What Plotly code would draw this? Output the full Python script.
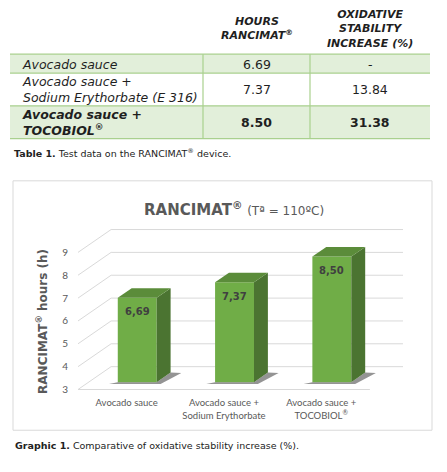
import plotly.graph_objects as go

# page size (px); the body margin is removed after plotting so the figure fills the window
OFF = 0
W, H = 447, 472

# table data
col_header = ["", "<b><i>HOURS</i></b><br><b><i>RANCIMAT<sup>®</sup></i></b>",
              "<b><i>OXIDATIVE</i></b><br><b><i>STABILITY</i></b><br><b><i>INCREASE (%)</i></b>"]
row_names = ["<i>Avocado sauce</i>",
             "<i>Avocado sauce +</i><br><i>Sodium Erythorbate (E 316)</i>",
             "<b><i>Avocado sauce +</i></b><br><b><i>TOCOBIOL<sup>®</sup></i></b>"]
hours_txt = ["6.69", "7.37", "<b>8.50</b>"]
increase_txt = ["-", "13.84", "<b>31.38</b>"]

# chart data
categories = ["Avocado sauce", "Avocado sauce +<br>Sodium Erythorbate", "Avocado sauce +<br>TOCOBIOL<sup>®</sup>"]
hours = [6.69, 7.37, 8.50]
bar_labels = ["6,69", "7,37", "8,50"]
y_ticks = [3, 4, 5, 6, 7, 8, 9]

GRID = "#d9d9d9"
TXT = "#595959"
INK = "#1f1f1f"
FRONT, TOP, SIDE = "#70ad47", "#5b8c3a", "#4b7431"
TFILL, TLINE = "#e2efda", "#a9d08e"
FONT = "DejaVu Sans"


def px(x):
    return (x - OFF) / W


def py(y):
    return 1 - (y - OFF) / H


fig = go.Figure()
shapes = []
notes = []

# ---- table (page px) ----
col_edges = [10, 203, 310, 430]
row_edges = [54.5, 73.5, 106.5, 139.5]
row_fill = [TFILL, "white", TFILL]
for r in range(3):
    shapes.append(dict(type="rect", xref="paper", yref="paper", x0=px(col_edges[0]), x1=px(col_edges[-1]),
                       y0=py(row_edges[r + 1]), y1=py(row_edges[r]), fillcolor=row_fill[r],
                       line=dict(width=0), layer="below"))
for yy in row_edges:
    shapes.append(dict(type="line", xref="paper", yref="paper", x0=px(col_edges[0]), x1=px(col_edges[-1]),
                       y0=py(yy), y1=py(yy), line=dict(color=TLINE, width=1.2)))
for xx in col_edges[1:-1]:
    shapes.append(dict(type="line", xref="paper", yref="paper", x0=px(xx), x1=px(xx),
                       y0=py(row_edges[0]), y1=py(row_edges[-1]), line=dict(color=TLINE, width=1.2)))

col_mid = [(col_edges[c] + col_edges[c + 1]) / 2 for c in range(3)]
for c in (1, 2):
    notes.append(dict(x=px(col_mid[c]), y=py(29), text=col_header[c], xanchor="center", yanchor="middle",
                      font=dict(family=FONT, size=11, color=INK)))
for r in range(3):
    ym = py((row_edges[r] + row_edges[r + 1]) / 2 + 0.5)
    notes.append(dict(x=px(20), y=ym, text=row_names[r], xanchor="left", yanchor="middle", align="left",
                      font=dict(family=FONT, size=12.5, color=INK)))
    notes.append(dict(x=px(col_mid[1]), y=ym, text=hours_txt[r], xanchor="center", yanchor="middle",
                      font=dict(family=FONT, size=12.5, color=INK)))
    notes.append(dict(x=px(col_mid[2]), y=ym, text=increase_txt[r], xanchor="center", yanchor="middle",
                      font=dict(family=FONT, size=12.5, color=INK)))

# ---- 3d-looking column chart (axis units) ----
DX, DY = 0.34, 1.0      # depth of the floor
F0 = 0.32               # depth of bar front face
BW = 0.40               # bar width
SD = 0.42               # bar depth (fraction of floor depth)
sdx, sdy = SD * DX, SD * DY
BASE = y_ticks[0] + F0 * DY

# side wall diagonals, back wall gridlines, floor edge
for v in y_ticks:
    shapes.append(dict(type="line", xref="x", yref="y", x0=-0.5, x1=-0.5 + DX, y0=v, y1=v + DY,
                       line=dict(color=GRID, width=1), layer="below"))
    shapes.append(dict(type="line", xref="x", yref="y", x0=-0.5 + DX, x1=2.5 + DX, y0=v + DY, y1=v + DY,
                       line=dict(color=GRID, width=1), layer="below"))
shapes.append(dict(type="line", xref="x", yref="y", x0=-0.5, x1=2.5, y0=y_ticks[0], y1=y_ticks[0],
                   line=dict(color=GRID, width=1), layer="below"))

xc = [i + F0 * DX for i in range(len(hours))]
tops = [v + F0 * DY for v in hours]
for i, v in enumerate(hours):
    xl, xr = xc[i] - BW / 2, xc[i] + BW / 2
    top = tops[i]
    # floor shadow
    fig.add_trace(go.Scatter(
        x=[xl - 0.09, xr + 0.04, xr + sdx + 0.11, xr + sdx, xr, xl, xl - 0.09],
        y=[BASE - 0.08, BASE - 0.08, BASE + sdy - 0.02, BASE + sdy, BASE, BASE, BASE - 0.08],
        fill="toself", fillcolor="rgba(60,60,60,0.55)", line=dict(width=0),
        mode="lines", hoverinfo="skip"))
    # side face
    fig.add_trace(go.Scatter(
        x=[xr, xr, xr + sdx, xr + sdx, xr],
        y=[BASE, top, top + sdy, BASE + sdy, BASE],
        fill="toself", fillcolor=SIDE, line=dict(width=0), mode="lines", hoverinfo="skip"))
    # top face
    fig.add_trace(go.Scatter(
        x=[xl, xr, xr + sdx, xl + sdx, xl],
        y=[top, top, top + sdy, top + sdy, top],
        fill="toself", fillcolor=TOP, line=dict(width=0), mode="lines", hoverinfo="skip"))
    notes.append(dict(xref="x", yref="y", x=xc[i], y=top, yshift=-14, text="<b>%s</b>" % bar_labels[i],
                      font=dict(family=FONT, size=10, color="#404040")))

# front faces
fig.add_trace(go.Bar(x=xc, y=[t - BASE for t in tops], base=BASE, width=BW,
                     marker=dict(color=FRONT, line=dict(width=0)), hoverinfo="skip"))

# axes placement (page px)
x_lo, x_hi = -0.55, 2.5 + DX + 0.05
y_lo, y_hi = 2.9, 10.1
ux, uy = 97.3, 23.0
left = 78 - (-0.5 - x_lo) * ux
right = 78 + (x_hi + 0.5) * ux
bottom = 392 + (y_ticks[0] - y_lo) * uy
top_px = 392 - (y_hi - y_ticks[0]) * uy

# chart frame
shapes.append(dict(type="rect", xref="paper", yref="paper", x0=px(13), x1=px(432),
                   y0=py(433), y1=py(182), line=dict(color=GRID, width=1), layer="below"))

notes.append(dict(x=px(234), y=py(210), xanchor="center", yanchor="middle",
                  text="<b>RANCIMAT<sup>®</sup></b> <span style='font-size:12px'>(Tª = 110ºC)</span>",
                  font=dict(family=FONT, size=15, color=TXT)))
notes.append(dict(x=px(42), y=py(324), xanchor="center", yanchor="middle", textangle=-90,
                  text="<b>RANCIMAT<sup>®</sup> hours (h)</b>",
                  font=dict(family=FONT, size=12, color=TXT)))
notes.append(dict(x=px(12), y=py(154), xanchor="left", yanchor="middle",
                  text="<b>Table 1.</b> Test data on the RANCIMAT<sup>®</sup> device.",
                  font=dict(family=FONT, size=9.5, color="#222222")))
notes.append(dict(x=px(13), y=py(448), xanchor="left", yanchor="middle",
                  text="<b>Graphic 1.</b> Comparative of oxidative stability increase (%).",
                  font=dict(family=FONT, size=9.5, color="#222222")))

for n in notes:
    n.setdefault("xref", "paper")
    n.setdefault("yref", "paper")
    n["showarrow"] = False
    fig.add_annotation(**n)

fig.update_layout(
    width=W, height=H, margin=dict(l=0, r=0, t=0, b=0),
    paper_bgcolor="white", plot_bgcolor="rgba(0,0,0,0)", showlegend=False,
    xaxis=dict(domain=[px(left), px(right)], range=[x_lo, x_hi], tickvals=[0, 1, 2],
               ticktext=categories, showgrid=False, zeroline=False, showline=False,
               ticklabelstandoff=4, tickfont=dict(family="Lato", size=9.5, color=TXT)),
    yaxis=dict(domain=[py(bottom), py(top_px)], range=[y_lo, y_hi], tickvals=y_ticks,
               showgrid=False, zeroline=False, showline=False, ticklabelstandoff=4,
               tickfont=dict(family="Lato", size=10, color=TXT)),
    shapes=shapes,
)

fig.write_html("out.html", config={"displayModeBar": False},
               post_script="document.body.style.margin = '0px';")
